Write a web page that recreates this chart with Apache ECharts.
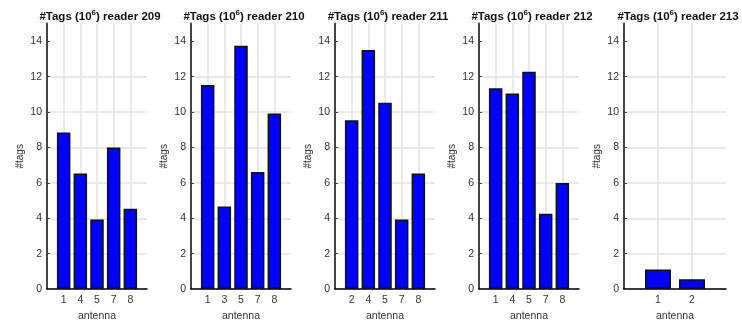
<!DOCTYPE html>
<html>
<head>
<meta charset="utf-8">
<script src="https://cdn.jsdelivr.net/npm/echarts@6/dist/echarts.min.js"></script>
<style>
html,body{margin:0;padding:0;background:#fff;}
#chart{width:742px;height:327px;}
</style>
</head>
<body>
<div id="chart"></div>
<script>
// ---- data ----
const readers = ['209', '210', '211', '212', '213'];
const antennas209 = ['1', '4', '5', '7', '8'];
const antennas210 = ['1', '3', '5', '7', '8'];
const antennas211 = ['2', '4', '5', '7', '8'];
const antennas212 = ['1', '4', '5', '7', '8'];
const antennas213 = ['1', '2'];
const tags209 = [8.84, 6.53, 3.93, 7.99, 4.54];
const tags210 = [11.52, 4.66, 13.75, 6.62, 9.92];
const tags211 = [9.53, 13.5, 10.53, 3.93, 6.53];
const tags212 = [11.35, 11.05, 12.28, 4.25, 5.99];
const tags213 = [1.1, 0.56];
const yTicks = [0, 2, 4, 6, 8, 10, 12, 14];
const yMax = 15;

const antennaLists = [antennas209, antennas210, antennas211, antennas212, antennas213];
const tagLists = [tags209, tags210, tags211, tags212, tags213];

// ---- layout ----
const gridLefts = [47, 191, 335, 479, 624];
const gridWidths = [100, 100, 100, 100, 102];
const gridTop = 23.5, gridHeight = 270;
const FONT = 'Liberation Sans, Arial, sans-serif';

const chart = echarts.init(document.getElementById('chart'), null, {renderer: 'canvas'});

const grids = [], xAxes = [], yAxes = [], series = [], titles = [];
readers.forEach((r, k) => {
  const labs = antennaLists[k];
  const vals = tagLists[k];
  const n = labs.length;
  grids.push({left: gridLefts[k], width: gridWidths[k], top: gridTop, height: gridHeight, containLabel: false});
  titles.push({
    text: '#Tags (10{sup|6}) reader ' + r,
    left: gridLefts[k] + gridWidths[k] / 2 - 2,
    top: 4,
    textAlign: 'center',
    textStyle: {
      fontFamily: FONT,
      fontSize: 11.5, fontWeight: 'bold', color: '#111',
      rich: {
        sup: {fontSize: 8, fontWeight: 'bold', verticalAlign: 'top', color: '#111', padding: [0, 0, 7, 0]}
      }
    }
  });
  const ticks = labs.map((_, i) => i + 1);
  xAxes.push({
    gridIndex: k, type: 'value', min: 0, max: n + 1, interval: 1,
    name: 'antenna', nameLocation: 'middle', nameGap: 20,
    nameTextStyle: {fontFamily: FONT, fontSize: 10.5, color: '#333'},
    axisLine: {show: true, onZero: false, lineStyle: {color: '#000', width: 1.5}},
    axisTick: {show: false},
    axisLabel: {
      customValues: ticks, margin: 6,
      fontFamily: FONT, fontSize: 10.5, color: '#333',
      formatter: v => labs[Math.round(v) - 1] || ''
    },
    splitLine: {show: true, showMinLine: false, showMaxLine: false, lineStyle: {color: '#e3e3e3', width: 1.5}}
  });
  yAxes.push({
    gridIndex: k, type: 'value', min: 0, max: yMax, interval: 2,
    name: '#tags', nameLocation: 'middle', nameGap: 22, nameRotate: 90,
    nameTextStyle: {fontFamily: FONT, fontSize: 10, color: '#333'},
    axisLine: {show: true, lineStyle: {color: '#444', width: 2}},
    axisTick: {show: true, inside: true, length: 3, customValues: yTicks, lineStyle: {color: '#444', width: 1}},
    axisLabel: {customValues: yTicks, margin: 5, fontFamily: FONT, fontSize: 10.5, color: '#333'},
    splitLine: {show: true, showMaxLine: false, lineStyle: {color: '#e3e3e3', width: 1.5}}
  });
  series.push({
    type: 'bar', xAxisIndex: k, yAxisIndex: k,
    barWidth: n > 2 ? 13.5 : 26,
    data: labs.map((_, i) => [i + 1, vals[i]]),
    itemStyle: {color: '#0000ff', borderColor: '#111', borderWidth: 1.5},
    silent: true
  });
});

chart.setOption({
  animation: false,
  backgroundColor: '#fff',
  title: titles,
  grid: grids,
  xAxis: xAxes,
  yAxis: yAxes,
  series: series
});
</script>
</body>
</html>
